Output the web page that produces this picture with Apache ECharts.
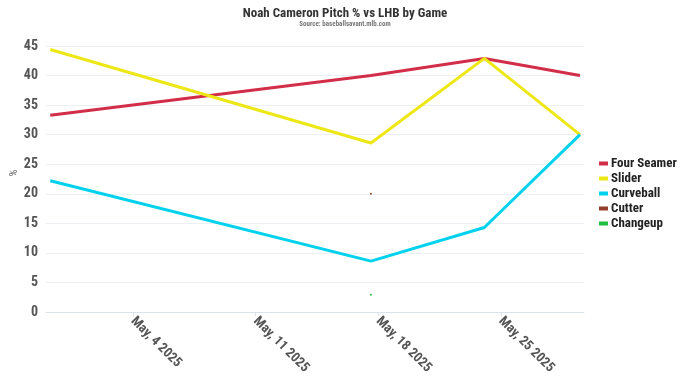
<!DOCTYPE html>
<html>
<head>
<meta charset="utf-8">
<script src="https://cdn.jsdelivr.net/npm/echarts@6/dist/echarts.min.js"></script>
<style>html,body{margin:0;padding:0;background:#fff}#c{width:680px;height:383px}</style>
</head>
<body>
<div id="c"></div>
<script>
var gameDates = ['2025-04-29T06:50:00Z', '2025-05-17T14:10:00Z', '2025-05-24T01:30:00Z', '2025-05-29T12:30:00Z'];
var fourSeamer = [33.3, 40.0, 42.9, 40.0];
var slider = [44.4, 28.6, 42.9, 30.0];
var curveball = [22.2, 8.6, 14.3, 30.0];
var cutter = [null, 20.0, null, null];
var changeup = [null, 2.9, null, null];
var seriesNames = ['Four Seamer', 'Slider', 'Curveball', 'Cutter', 'Changeup'];
var seriesColors = ['#d22d49', '#eee716', '#00d1ed', '#933f2c', '#23be41'];
var tickDates = ['2025-05-04T00:00:00Z', '2025-05-11T00:00:00Z', '2025-05-18T00:00:00Z', '2025-05-25T00:00:00Z'];
var tickLabels = ['May, 4 2025', 'May, 11 2025', 'May, 18 2025', 'May, 25 2025'];
var xMin = '2025-04-29T01:00:00Z';
var xMax = '2025-05-29T18:00:00Z';

var FONT = "'Roboto Condensed', 'Liberation Sans Narrow', 'DejaVu Sans Condensed', Roboto, sans-serif";
function ts(d) { return new Date(d).getTime(); }
var tickTs = tickDates.map(ts);
function pairs(vals) {
  return gameDates.map(function (d, i) { return [ts(d), vals[i]]; });
}
var allVals = [fourSeamer, slider, curveball, cutter, changeup];
var chart = echarts.init(document.getElementById('c'), null, { renderer: 'canvas' });
var series = allVals.map(function (v, i) {
  var single = i >= 3;
  return {
    name: seriesNames[i],
    type: 'line',
    data: pairs(v),
    connectNulls: false,
    showSymbol: single,
    symbol: 'circle',
    symbolSize: 2,
    lineStyle: { width: 3, color: seriesColors[i] },
    itemStyle: { color: seriesColors[i] },
    emphasis: { disabled: true },
    animation: false
  };
});
chart.setOption({
  animation: false,
  title: {
    text: 'Noah Cameron Pitch % vs LHB by Game',
    subtext: 'Source: baseballsavant.mlb.com',
    left: 340, textAlign: 'center', top: 2, itemGap: 1,
    textStyle: { fontFamily: FONT, fontWeight: 'bold', fontSize: 13, color: '#333' },
    subtextStyle: { fontFamily: FONT, fontWeight: 'bold', fontSize: 7, color: '#777' }
  },
  legend: {
    orient: 'vertical', left: 594, top: 152, itemGap: 2,
    icon: 'rect', itemWidth: 9, itemHeight: 4,
    textStyle: { fontFamily: FONT, fontWeight: 'bold', fontSize: 13, color: '#222', padding: [0, 0, 0, -2] },
    data: seriesNames
  },
  grid: { left: 46, right: 96, top: 46, bottom: 71, containLabel: false, outerBoundsMode: 'none' },
  xAxis: {
    type: 'value', min: ts(xMin), max: ts(xMax),
    axisLine: { show: true, lineStyle: { color: '#dde3ea', width: 1 } },
    axisTick: { show: true, customValues: tickTs, length: 4, lineStyle: { color: '#dde3ea' } },
    splitLine: { show: false },
    axisLabel: {
      customValues: tickTs, rotate: -45, margin: 7,
      fontFamily: FONT, fontWeight: 'bold', fontSize: 13.6, color: '#555',
      formatter: function (v) {
        var i = tickTs.indexOf(v);
        return i >= 0 ? tickLabels[i] : '';
      }
    }
  },
  yAxis: {
    type: 'value', min: 0, max: 45, interval: 5,
    name: '%', nameLocation: 'middle', nameGap: 26, nameRotate: 90, nameMoveOverlap: false,
    nameTextStyle: { fontFamily: FONT, fontSize: 11, color: '#666', padding: [0, 0, 0, 12] },
    axisLine: { show: false }, axisTick: { show: false },
    splitLine: { show: true, lineStyle: { color: '#eceff3', width: 1 } },
    axisLabel: { fontFamily: FONT, fontWeight: 'bold', fontSize: 14, color: '#555', margin: 8 }
  },
  series: series
});
</script>
</body>
</html>
